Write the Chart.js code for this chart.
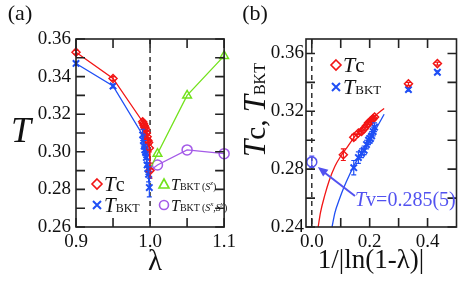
<!DOCTYPE html>
<html lang="en">
<head>
<meta charset="UTF-8">
<title>Tc and TBKT vs lambda</title>
<script src="https://cdn.jsdelivr.net/npm/chart.js"></script>
<style>
  body { margin: 0; background: #fff; }
  #wrap { position: relative; width: 463px; height: 283px; }
  .pane { position: absolute; top: 0; height: 283px; }
</style>
</head>
<body>
<div id="wrap">
  <div class="pane" style="left:0;width:240px"><canvas id="chartA" width="240" height="283"></canvas></div>
  <div class="pane" style="left:240px;width:223px"><canvas id="chartB" width="223" height="283"></canvas></div>
</div>
<script>
// ---- data, panel (a): T against lambda ----
const lambda   = [0.9, 0.95, 0.99, 0.991, 0.992, 0.993, 0.994, 0.995, 0.996, 0.997, 0.998, 0.999, 0.9999];
const tcA      = [0.353, 0.339, 0.316, 0.315, 0.314, 0.313, 0.312, 0.310, 0.308, 0.306, 0.305, 0.302, 0.290];
const tcErr    = [0.001, 0.001, 0.001, 0.001, 0.001, 0.001, 0.001, 0.001, 0.001, 0.001, 0.001, 0.002, 0.004];
const lambdaB  = [0.9, 0.95, 0.99, 0.991, 0.992, 0.993, 0.994, 0.995, 0.996, 0.997, 0.998, 0.999];
const bktA     = [0.347, 0.335, 0.309, 0.306, 0.303, 0.301, 0.300, 0.297, 0.293, 0.291, 0.288, 0.281];
const bktErr   = [0.001, 0.001, 0.003, 0.003, 0.003, 0.003, 0.003, 0.003, 0.003, 0.003, 0.004, 0.005];
const lambdaZ  = [1.0, 1.01, 1.05, 1.1];
const bktSz    = [0.291, 0.299, 0.330, 0.351];
const bktSxy   = [0.290, 0.293, 0.301, 0.299];

// ---- data, panel (b): against 1/|ln(1-lambda)| ----
const invLog   = [0.434, 0.334, 0.217, 0.212, 0.207, 0.202, 0.196, 0.189, 0.181, 0.172, 0.161, 0.145, 0.109];
const invLogB  = [0.434, 0.334, 0.217, 0.212, 0.207, 0.202, 0.196, 0.189, 0.181, 0.172, 0.161, 0.145];
// fitted curves
const fitTcX   = [0.022, 0.03, 0.045, 0.06, 0.08, 0.10, 0.125, 0.15, 0.175, 0.20, 0.225, 0.25];
const fitTcY   = [0.240, 0.250, 0.262, 0.272, 0.282, 0.289, 0.296, 0.303, 0.309, 0.314, 0.318, 0.322];
const fitBktX  = [0.07, 0.08, 0.095, 0.11, 0.13, 0.15, 0.175, 0.20, 0.225, 0.25];
const fitBktY  = [0.240, 0.250, 0.259, 0.267, 0.276, 0.284, 0.292, 0.300, 0.309, 0.318];
const tvX = 0.0, tvY = 0.285, tvErr = 0.004;

// ---- ticks ----
const ticksAX = [0.9, 0.95, 1.0, 1.05, 1.1];
const ticksAY = [0.26, 0.27, 0.28, 0.29, 0.30, 0.31, 0.32, 0.33, 0.34, 0.35, 0.36];
const ticksBX = [0.0, 0.1, 0.2, 0.3, 0.4];
const ticksBY = [0.24, 0.26, 0.28, 0.30, 0.32, 0.34, 0.36];

const RED = '#f21515', BLUE = '#1f4ff5', GREEN = '#72e21c', PURPLE = '#a45ae8', TV = '#5252f0';
const SERIF = '"Liberation Serif", "DejaVu Serif", serif';

const pts = (xs, ys) => xs.map((x, i) => ({ x: x, y: ys[i] }));
const near = (v, step) => Math.abs(v / step - Math.round(v / step)) < 1e-6;

// draw a run of text pieces (italic T, subscripts ...)
function rich(ctx, parts, x, y, align) {
  let w = 0;
  parts.forEach(p => { ctx.font = p.f; w += ctx.measureText(p.t).width + (p.gap || 0); });
  let cx = align === 'center' ? x - w / 2 : x;
  ctx.textBaseline = 'alphabetic';
  ctx.textAlign = 'left';
  parts.forEach(p => {
    ctx.font = p.f;
    ctx.fillText(p.t, cx, y + (p.dy || 0));
    cx += ctx.measureText(p.t).width + (p.gap || 0);
  });
}

function marker(ctx, kind, x, y, color) {
  ctx.save();
  ctx.strokeStyle = color;
  ctx.lineWidth = 1.6;
  ctx.beginPath();
  if (kind === 'diamond') {
    ctx.moveTo(x, y - 5); ctx.lineTo(x + 5, y); ctx.lineTo(x, y + 5); ctx.lineTo(x - 5, y); ctx.closePath();
  } else if (kind === 'cross') {
    ctx.lineWidth = 2;
    ctx.moveTo(x - 4, y - 4); ctx.lineTo(x + 4, y + 4); ctx.moveTo(x + 4, y - 4); ctx.lineTo(x - 4, y + 4);
  } else if (kind === 'tri') {
    ctx.moveTo(x, y - 5); ctx.lineTo(x + 5, y + 4); ctx.lineTo(x - 5, y + 4); ctx.closePath();
  } else {
    ctx.arc(x, y, 4.5, 0, Math.PI * 2);
  }
  ctx.stroke();
  ctx.restore();
}

const deco = {
  id: 'deco',
  beforeDatasetsDraw(chart, args, o) {
    const ctx = chart.ctx, a = chart.chartArea;
    const px = chart.scales.x.getPixelForValue(o.dashX);
    ctx.save();
    ctx.strokeStyle = '#222';
    ctx.lineWidth = 1.4;
    ctx.setLineDash([5, 4]);
    ctx.beginPath(); ctx.moveTo(px, a.top); ctx.lineTo(px, a.bottom); ctx.stroke();
    ctx.restore();
  },
  afterDatasetsDraw(chart, args, o) {
    const ctx = chart.ctx, a = chart.chartArea, sx = chart.scales.x, sy = chart.scales.y;
    ctx.save();
    // error bars
    o.errors.forEach(e => {
      ctx.strokeStyle = e.color;
      ctx.lineWidth = 1.2;
      e.x.forEach((xv, i) => {
        const X = sx.getPixelForValue(xv);
        const y1 = sy.getPixelForValue(e.y[i] - e.err[i]), y2 = sy.getPixelForValue(e.y[i] + e.err[i]);
        ctx.beginPath();
        ctx.moveTo(X, y1); ctx.lineTo(X, y2);
        ctx.moveTo(X - 2.5, y1); ctx.lineTo(X + 2.5, y1);
        ctx.moveTo(X - 2.5, y2); ctx.lineTo(X + 2.5, y2);
        ctx.stroke();
      });
    });
    // frame with inward ticks on all sides
    ctx.strokeStyle = '#222';
    ctx.lineWidth = 1.6;
    ctx.strokeRect(a.left, a.top, a.right - a.left, a.bottom - a.top);
    ctx.beginPath();
    o.tx.forEach(v => {
      const X = sx.getPixelForValue(v);
      ctx.moveTo(X, a.bottom); ctx.lineTo(X, a.bottom - 9);
      ctx.moveTo(X, a.top); ctx.lineTo(X, a.top + 9);
    });
    o.ty.forEach(v => {
      const Y = sy.getPixelForValue(v);
      ctx.moveTo(a.left, Y); ctx.lineTo(a.left + 9, Y);
      ctx.moveTo(a.right, Y); ctx.lineTo(a.right - 9, Y);
    });
    ctx.stroke();
    ctx.restore();
  },
  afterDraw(chart, args, o) {
    const ctx = chart.ctx;
    ctx.save();
    ctx.fillStyle = '#111';
    o.text(ctx, chart);
    ctx.restore();
  }
};
Chart.register(deco);

function axisX(min, max, ticks, every, digits, height, pad) {
  return {
    type: 'linear', min: min, max: max,
    afterBuildTicks: s => { s.ticks = ticks.map(v => ({ value: v })); },
    afterFit: s => { s.height = height; },
    grid: { display: false, drawTicks: false },
    border: { display: false },
    ticks: {
      autoSkip: false, maxRotation: 0, padding: pad, color: '#111',
      font: { family: SERIF, size: 19 },
      callback: v => near(v, every) ? v.toFixed(digits) : ''
    }
  };
}
function axisY(min, max, ticks, every, width, pad) {
  return {
    type: 'linear', min: min, max: max,
    afterBuildTicks: s => { s.ticks = ticks.map(v => ({ value: v })); },
    afterFit: s => { s.width = width; },
    grid: { display: false, drawTicks: false },
    border: { display: false },
    ticks: {
      autoSkip: false, padding: pad, color: '#111',
      font: { family: SERIF, size: 19 },
      callback: v => near(v, every) ? v.toFixed(2) : ''
    }
  };
}

const common = {
  responsive: false,
  animation: false,
  events: [],
  clip: false
};

// ---------- panel (a) ----------
new Chart(document.getElementById('chartA'), {
  type: 'scatter',
  data: {
    datasets: [
      { data: pts(lambda, tcA), showLine: true, borderColor: RED, borderWidth: 1.3,
        pointStyle: 'rectRot', pointRadius: 4, pointBorderWidth: 1.5, pointBorderColor: RED, pointBackgroundColor: 'rgba(0,0,0,0)' },
      { data: pts(lambdaB, bktA), showLine: true, borderColor: BLUE, borderWidth: 1.3,
        pointStyle: 'crossRot', pointRadius: 4.5, pointBorderWidth: 2, pointBorderColor: BLUE },
      { data: pts(lambdaZ, bktSz), showLine: true, borderColor: GREEN, borderWidth: 1.3,
        pointStyle: 'triangle', pointRadius: [0, 5, 5, 5], pointBorderWidth: 1.5, pointBorderColor: GREEN, pointBackgroundColor: 'rgba(0,0,0,0)' },
      { data: pts(lambdaZ, bktSxy), showLine: true, borderColor: PURPLE, borderWidth: 1.3,
        pointStyle: 'circle', pointRadius: [0, 5, 5, 5], pointBorderWidth: 1.5, pointBorderColor: PURPLE, pointBackgroundColor: 'rgba(0,0,0,0)' }
    ]
  },
  options: Object.assign({}, common, {
    layout: { padding: { left: 0, right: 7, top: 39, bottom: 0 } },
    scales: {
      x: axisX(0.9, 1.1, ticksAX, 0.1, 1, 56, 4),
      y: axisY(0.26, 0.36, ticksAY, 0.02, 76, 5)
    },
    plugins: {
      legend: { display: false },
      tooltip: { enabled: false },
      deco: {
        dashX: 1.0,
        tx: ticksAX, ty: ticksAY,
        errors: [
          { x: lambda, y: tcA, err: tcErr, color: RED },
          { x: lambdaB, y: bktA, err: bktErr, color: BLUE }
        ],
        text: (ctx) => {
          ctx.textAlign = 'center'; ctx.textBaseline = 'middle';
          ctx.font = '22px ' + SERIF;
          ctx.fillText('(a)', 20, 14);
          ctx.font = 'italic 36px ' + SERIF;
          ctx.fillText('T', 21, 133);
          ctx.font = '29px ' + SERIF;
          ctx.fillText('λ', 155, 262);
          // legend
          marker(ctx, 'diamond', 97, 184, RED);
          marker(ctx, 'cross', 97, 205, BLUE);
          marker(ctx, 'tri', 164, 184, GREEN);
          marker(ctx, 'circle', 164, 205, PURPLE);
          rich(ctx, [{ t: 'T', f: 'italic 21px ' + SERIF }, { t: 'c', f: '20px ' + SERIF }], 104, 191);
          rich(ctx, [{ t: 'T', f: 'italic 21px ' + SERIF }, { t: 'BKT', f: '12px ' + SERIF }], 104, 212);
          rich(ctx, [{ t: 'T', f: 'italic 16px ' + SERIF }, { t: 'BKT', f: '10px ' + SERIF, gap: 2 },
                     { t: '(', f: '10px ' + SERIF }, { t: 'S', f: 'italic 10px ' + SERIF },
                     { t: 'z', f: 'italic 7px ' + SERIF, dy: -5 }, { t: ')', f: '10px ' + SERIF }], 171, 190);
          rich(ctx, [{ t: 'T', f: 'italic 16px ' + SERIF }, { t: 'BKT', f: '10px ' + SERIF, gap: 2 },
                     { t: '(', f: '10px ' + SERIF }, { t: 'S', f: 'italic 10px ' + SERIF },
                     { t: 'x', f: 'italic 7px ' + SERIF, dy: -5 }, { t: ',', f: '10px ' + SERIF },
                     { t: 'S', f: 'italic 10px ' + SERIF }, { t: 'y', f: 'italic 7px ' + SERIF, dy: -5 },
                     { t: ')', f: '10px ' + SERIF }], 171, 211);
        }
      }
    }
  })
});

// ---------- panel (b) ----------
new Chart(document.getElementById('chartB'), {
  type: 'scatter',
  data: {
    datasets: [
      { data: pts(fitTcX, fitTcY), showLine: true, borderColor: RED, borderWidth: 1.3, pointRadius: 0, cubicInterpolationMode: 'monotone' },
      { data: pts(fitBktX, fitBktY), showLine: true, borderColor: BLUE, borderWidth: 1.3, pointRadius: 0, cubicInterpolationMode: 'monotone' },
      { data: pts(invLog, tcA), showLine: false,
        pointStyle: 'rectRot', pointRadius: 4, pointBorderWidth: 1.5, pointBorderColor: RED, pointBackgroundColor: 'rgba(0,0,0,0)' },
      { data: pts(invLogB, bktA), showLine: false,
        pointStyle: 'crossRot', pointRadius: 4.5, pointBorderWidth: 2, pointBorderColor: BLUE },
      { data: [{ x: tvX, y: tvY }], showLine: false,
        pointStyle: 'circle', pointRadius: 5, pointBorderWidth: 1.5, pointBorderColor: TV, pointBackgroundColor: 'rgba(0,0,0,0)' }
    ]
  },
  options: Object.assign({}, common, {
    layout: { padding: { left: 0, right: 1, top: 39, bottom: 0 } },
    scales: {
      x: axisX(-0.02, 0.5, ticksBX, 0.2, 1, 56, 4),
      y: axisY(0.24, 0.37, ticksBY, 0.04, 66, 2)
    },
    plugins: {
      legend: { display: false },
      tooltip: { enabled: false },
      deco: {
        dashX: 0.0,
        tx: ticksBX, ty: ticksBY,
        errors: [
          { x: invLog, y: tcA, err: tcErr, color: RED },
          { x: invLogB, y: bktA, err: bktErr, color: BLUE },
          { x: [tvX], y: [tvY], err: [tvErr], color: TV }
        ],
        text: (ctx, chart) => {
          ctx.textAlign = 'center'; ctx.textBaseline = 'middle';
          ctx.font = '22px ' + SERIF;
          ctx.fillText('(b)', 15, 14);
          ctx.font = '27px ' + SERIF;
          ctx.fillText('1/|ln(1-λ)|', 131, 261);
          // rotated y title
          ctx.save();
          ctx.translate(15, 110);
          ctx.rotate(-Math.PI / 2);
          rich(ctx, [{ t: 'T', f: 'italic 31px ' + SERIF }, { t: 'c, ', f: '29px ' + SERIF },
                     { t: 'T', f: 'italic 31px ' + SERIF }, { t: 'BKT', f: '16px ' + SERIF }], 0, 10, 'center');
          ctx.restore();
          // legend
          marker(ctx, 'diamond', 96, 65, RED);
          marker(ctx, 'cross', 96, 87, BLUE);
          rich(ctx, [{ t: 'T', f: 'italic 22px ' + SERIF }, { t: 'c', f: '21px ' + SERIF }], 103, 72);
          rich(ctx, [{ t: 'T', f: 'italic 22px ' + SERIF }, { t: 'BKT', f: '13px ' + SERIF }], 103, 94);
          // Tv annotation with arrow to the extrapolated point
          const sx = chart.scales.x, sy = chart.scales.y;
          const tipX = sx.getPixelForValue(tvX) + 6, tipY = sy.getPixelForValue(tvY) + 5;
          const fromX = 115, fromY = 196;
          ctx.strokeStyle = TV; ctx.fillStyle = TV; ctx.lineWidth = 2;
          ctx.beginPath(); ctx.moveTo(fromX, fromY); ctx.lineTo(tipX + 6, tipY + 5); ctx.stroke();
          const ang = Math.atan2(tipY - fromY, tipX - fromX);
          ctx.beginPath();
          ctx.moveTo(tipX, tipY);
          ctx.lineTo(tipX - 11 * Math.cos(ang - 0.4), tipY - 11 * Math.sin(ang - 0.4));
          ctx.lineTo(tipX - 11 * Math.cos(ang + 0.4), tipY - 11 * Math.sin(ang + 0.4));
          ctx.closePath(); ctx.fill();
          rich(ctx, [{ t: 'T', f: 'italic 20px ' + SERIF }, { t: 'v=0.285(5)', f: '20px ' + SERIF }], 115, 206);
        }
      }
    }
  })
});
</script>
</body>
</html>
